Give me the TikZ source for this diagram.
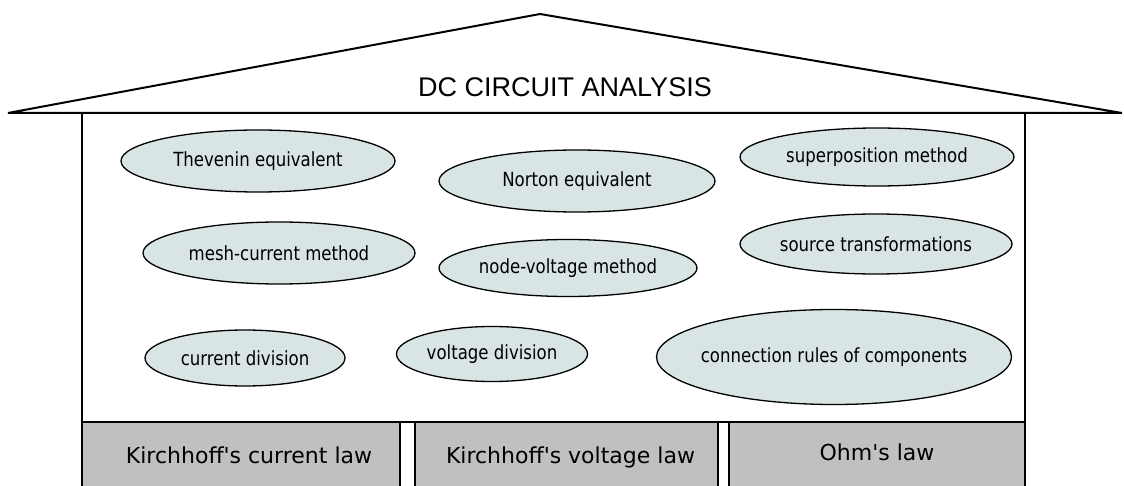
\documentclass[tikz,border=0pt]{standalone}
\usepackage{fontspec}
\setmainfont{DejaVu Sans}
\newfontfamily\titlefont{Liberation Sans}
\newfontfamily\ovalfont[FakeStretch=0.85]{DejaVu Sans}
\usetikzlibrary{shapes.geometric}
\definecolor{ovalcolor}{RGB}{217,228,229}
\definecolor{lawcolor}{RGB}{192,192,192}

\begin{document}
\begin{tikzpicture}[x=1pt,y=-1pt,
    method/.style={ellipse,draw=black,line width=1.3pt,fill=ovalcolor,
      inner xsep=-10pt,inner ysep=0pt,font=\ovalfont\fontsize{19.5}{22}\selectfont},
    law/.style n args={2}{rectangle,draw=black,line width=1.3pt,fill=lawcolor,inner sep=0pt,
      minimum height=66pt,label={[font=\fontsize{22}{26}\selectfont,#1]center:#2}}]
  \useasboundingbox (0,0) rectangle (1124,486);

  % house body
  \draw[line width=1.3pt] (82,113) rectangle (1025,422);

  % roof
  \draw[line width=2pt,line join=miter] (8,113) -- (540,14) -- (1122,113) -- cycle;
  \node[font=\titlefont\fontsize{27}{30}\selectfont] (title) at (565,87) {DC CIRCUIT ANALYSIS};

  % analysis methods
  \foreach \nm/\x/\y/\w/\h/\txt in {
      thev/258/161/274/62/Thevenin equivalent,
      norton/577/181/276/62/Norton equivalent,
      superpos/877/157/274/58/superposition method,
      mesh/279/253/272/62/mesh-current method,
      nodev/568/268/258/57/node-voltage method,
      srctrans/876/244/272/60/source transformations,
      idiv/245/358/200/56/current division,
      vdiv/492/354/191/55/voltage division,
      connrules/834/357/355/95/connection rules of components} {
    \node[method,minimum width=\w pt,minimum height=\h pt] (\nm) at (\x,\y) {\txt};
  }

  % foundation: the three laws
  \node[law={xshift=8pt}{Kirchhoff\textquotesingle s current law},minimum width=318pt] (kcl) at (241,455) {};
  \node[law={xshift=4pt,yshift=-2pt}{Kirchhoff\textquotesingle s voltage law},minimum width=303pt] (kvl) at (566.5,455) {};
  \node[law={yshift=3pt}{Ohm\textquotesingle s law},minimum width=296pt] (ohm) at (877,455) {};
\end{tikzpicture}
\end{document}
